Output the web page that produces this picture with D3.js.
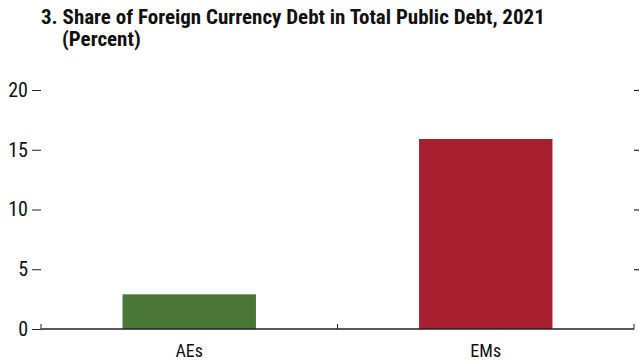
<!DOCTYPE html>
<html>
<head>
<meta charset="utf-8">
<script src="https://cdn.jsdelivr.net/npm/d3@7"></script>
<style>
  html, body { margin: 0; padding: 0; background: #fff; }
  svg { display: block; }
  text { font-family: "Liberation Sans Narrow", "Roboto Condensed", "Arial Narrow", "Liberation Sans", sans-serif; fill: #111; }
</style>
</head>
<body>
<svg id="chart" width="639" height="362"></svg>
<script>
// Chart data
const categories = ["AEs", "EMs"];
const shares = [2.9, 15.9];
const barColors = ["#4a7637", "#a81f2f"];
const yTicks = [0, 5, 10, 15, 20];
const titleLines = ["3. Share of Foreign Currency Debt in Total Public Debt, 2021", "(Percent)"];

const width = 639, height = 362;
const margin = { left: 41, right: 5, top: 90, bottom: 33 };
const plotW = width - margin.left - margin.right;
const plotH = height - margin.top - margin.bottom;
const fontStack = "'Liberation Sans Narrow', 'Arial Narrow', sans-serif";

const svg = d3.select("#chart");

// Title
svg.append("text")
  .attr("x", 41).attr("y", 24)
  .attr("font-size", 21).attr("font-weight", "bold")
  .text(titleLines[0]);
svg.append("text")
  .attr("x", 62).attr("y", 46)
  .attr("font-size", 21).attr("font-weight", "bold")
  .text(titleLines[1]);

const g = svg.append("g").attr("transform", `translate(${margin.left},${margin.top})`);

const x = d3.scaleBand().domain(categories).range([0, plotW]).paddingInner(0.55).paddingOuter(0.275);
const xOuter = d3.scaleBand().domain(categories).range([0, plotW]);
const y = d3.scaleLinear().domain([0, 20]).range([plotH, 0]);

// Bars
g.selectAll("rect.bar")
  .data(categories)
  .join("rect")
  .attr("class", "bar")
  .attr("x", d => x(d))
  .attr("width", x.bandwidth())
  .attr("y", (d, i) => y(shares[i]))
  .attr("height", (d, i) => plotH - y(shares[i]))
  .attr("fill", (d, i) => barColors[i]);

// Left axis: labels and outward ticks, no domain line
const yLeft = g.append("g")
  .call(d3.axisLeft(y).tickValues(yTicks).tickSize(9).tickPadding(4).tickSizeOuter(0));
yLeft.select(".domain").remove();
yLeft.selectAll(".tick line").attr("stroke", "#222").attr("stroke-width", 1);
yLeft.selectAll(".tick text").attr("font-size", 20).attr("font-family", fontStack).attr("fill", "#111");

// Right axis: outward ticks only
const yRight = g.append("g")
  .attr("transform", `translate(${plotW},0)`)
  .call(d3.axisRight(y).tickValues(yTicks.filter(v => v > 0)).tickSize(6).tickFormat(""));
yRight.select(".domain").remove();
yRight.selectAll(".tick line").attr("stroke", "#222").attr("stroke-width", 1.2);

// Category separators on the baseline
const boundaries = [0, ...categories.slice(1).map(c => xOuter(c)), plotW];
g.selectAll("line.sep")
  .data(boundaries)
  .join("line")
  .attr("class", "sep")
  .attr("x1", d => d).attr("x2", d => d)
  .attr("y1", plotH - 5).attr("y2", plotH)
  .attr("stroke", "#222").attr("stroke-width", 1);

// Baseline
g.append("line")
  .attr("x1", 0).attr("x2", plotW)
  .attr("y1", plotH).attr("y2", plotH)
  .attr("stroke", "#222").attr("stroke-width", 1.3);

// Category labels
g.selectAll("text.cat")
  .data(categories)
  .join("text")
  .attr("class", "cat")
  .attr("x", d => xOuter(d) + xOuter.bandwidth() / 2)
  .attr("y", plotH + 28)
  .attr("text-anchor", "middle")
  .attr("font-size", 18)
  .text(d => d);
</script>
</body>
</html>
